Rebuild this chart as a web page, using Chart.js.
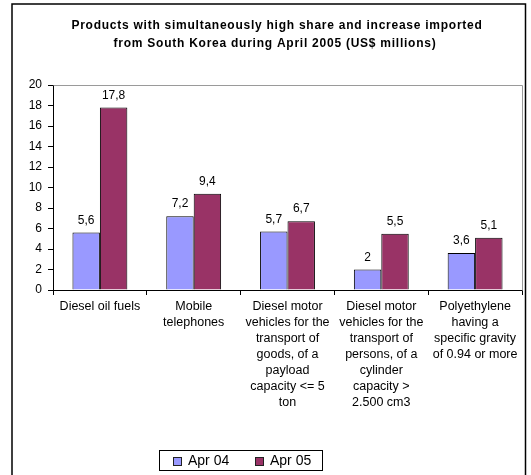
<!DOCTYPE html>
<html>
<head>
<meta charset="utf-8">
<title>Products imported from South Korea, April 2005</title>
<script src="https://cdn.jsdelivr.net/npm/chart.js@4/dist/chart.umd.min.js"></script>
<style>
  html, body { margin: 0; padding: 0; background: #fff; }
  canvas { display: block; }
</style>
</head>
<body>
<canvas id="chart" width="531" height="475"></canvas>
<script>
// Product categories (multi-line axis labels)
const categories = [
  ["Diesel oil fuels"],
  ["Mobile", "telephones"],
  ["Diesel motor", "vehicles for the", "transport of", "goods, of a", "payload", "capacity <= 5", "ton"],
  ["Diesel motor", "vehicles for the", "transport of", "persons, of a", "cylinder", "capacity >", "2.500 cm3"],
  ["Polyethylene", "having a", "specific gravity", "of 0.94 or more"]
];

// Imports in US$ millions
const apr04 = [5.6, 7.2, 5.7, 2, 3.6];
const apr05 = [17.8, 9.4, 6.7, 5.5, 5.1];

const seriesNames = ["Apr 04", "Apr 05"];

// Value axis
const yMin = 0;
const yMax = 20;
const yStep = 2;

const titleLines = [
  "Products with simultaneously high share and increase imported",
  "from South Korea during April 2005 (US$ millions)"
];

const FONT = 'Arial, "Liberation Sans", sans-serif';

// Outer frame of the chart object
const framePlugin = {
  id: 'frame',
  beforeDraw(chart) {
    const ctx = chart.ctx;
    ctx.save();
    ctx.fillStyle = '#fff';
    ctx.fillRect(0, 0, chart.width, chart.height);
    ctx.strokeStyle = '#000';
    ctx.lineWidth = 1.5;
    ctx.beginPath();
    ctx.moveTo(12, chart.height + 2);
    ctx.lineTo(12, 4);
    ctx.lineTo(525.5, 4);
    ctx.lineTo(525.5, chart.height + 2);
    ctx.stroke();
    ctx.restore();
  }
};

// Grey top/right edges of the plot area
const plotAreaPlugin = {
  id: 'plotArea',
  beforeDatasetsDraw(chart) {
    const { ctx, chartArea: a } = chart;
    ctx.save();
    ctx.strokeStyle = '#9a9a9a';
    ctx.lineWidth = 1;
    ctx.beginPath();
    ctx.moveTo(Math.round(a.left) + 0.5, Math.round(a.top) + 0.5);
    ctx.lineTo(Math.round(a.right) + 0.5, Math.round(a.top) + 0.5);
    ctx.lineTo(Math.round(a.right) + 0.5, Math.round(a.bottom) + 0.5);
    ctx.stroke();
    ctx.restore();
  }
};

// Two-line bold heading
const headingPlugin = {
  id: 'heading',
  afterDraw(chart) {
    const ctx = chart.ctx;
    ctx.save();
    ctx.fillStyle = '#000';
    ctx.font = 'bold 12px ' + FONT;
    if ('letterSpacing' in ctx) ctx.letterSpacing = '0.75px';
    ctx.textAlign = 'center';
    ctx.textBaseline = 'middle';
    ctx.fillText(titleLines[0], 277, 25.5);
    ctx.fillText(titleLines[1], 275, 44);
    ctx.restore();
  }
};

// Value labels above every bar
const valueLabelPlugin = {
  id: 'valueLabels',
  afterDatasetsDraw(chart) {
    const ctx = chart.ctx;
    ctx.save();
    ctx.fillStyle = '#000';
    ctx.font = '12px ' + FONT;
    ctx.textAlign = 'center';
    ctx.textBaseline = 'alphabetic';
    chart.data.datasets.forEach((ds, i) => {
      const meta = chart.getDatasetMeta(i);
      meta.data.forEach((bar, j) => {
        const txt = String(ds.data[j]).replace('.', ',');
        ctx.fillText(txt, bar.x, bar.y - 9);
      });
    });
    ctx.restore();
  }
};

// Boxed legend below the axis labels
const boxedLegendPlugin = {
  id: 'boxedLegend',
  afterDraw(chart) {
    const ctx = chart.ctx;
    const box = { x: 159, y: 450, w: 163, h: 20 };
    ctx.save();
    ctx.fillStyle = '#fff';
    ctx.fillRect(box.x, box.y, box.w, box.h);
    ctx.strokeStyle = '#000';
    ctx.lineWidth = 1;
    ctx.strokeRect(box.x + 0.5, box.y + 0.5, box.w, box.h);
    ctx.font = '14px ' + FONT;
    ctx.textBaseline = 'middle';
    ctx.textAlign = 'left';
    const starts = [173, 255];
    chart.data.datasets.forEach((ds, i) => {
      const sx = starts[i];
      ctx.fillStyle = ds.backgroundColor;
      ctx.fillRect(sx, 457, 8, 8);
      ctx.strokeStyle = '#222';
      ctx.strokeRect(sx + 0.5, 457.5, 8, 8);
      ctx.fillStyle = '#000';
      ctx.fillText(ds.label, sx + 15, 461.5);
    });
    ctx.restore();
  }
};

new Chart(document.getElementById('chart'), {
  type: 'bar',
  data: {
    labels: categories,
    datasets: [
      {
        label: seriesNames[0],
        data: apr04,
        backgroundColor: '#9999ff',
        borderColor: '#000',
        borderWidth: 1,
        borderSkipped: 'bottom',
        categoryPercentage: 0.585,
        barPercentage: 1
      },
      {
        label: seriesNames[1],
        data: apr05,
        backgroundColor: '#993366',
        borderColor: '#000',
        borderWidth: 1,
        borderSkipped: 'bottom',
        categoryPercentage: 0.585,
        barPercentage: 1
      }
    ]
  },
  options: {
    responsive: false,
    animation: false,
    devicePixelRatio: 1,
    layout: { padding: { top: 85, right: 9, left: 0, bottom: 0 } },
    plugins: {
      legend: { display: false },
      title: { display: false },
      tooltip: { enabled: false }
    },
    scales: {
      x: {
        grid: {
          offset: true,
          drawOnChartArea: false,
          drawTicks: true,
          tickLength: 5,
          color: '#000'
        },
        border: { color: '#000', width: 1 },
        ticks: {
          color: '#000',
          font: { family: FONT, size: 12.5, lineHeight: 16 / 12.5 },
          padding: 4,
          maxRotation: 0,
          minRotation: 0,
          autoSkip: false
        },
        afterFit(scale) { scale.height = 185; }
      },
      y: {
        min: yMin,
        max: yMax,
        grid: {
          drawOnChartArea: false,
          drawTicks: true,
          tickLength: 5,
          color: '#000'
        },
        border: { color: '#000', width: 1 },
        ticks: {
          stepSize: yStep,
          color: '#000',
          font: { family: FONT, size: 12 },
          padding: 6
        },
        afterFit(scale) { scale.width = 53; }
      }
    }
  },
  plugins: [framePlugin, plotAreaPlugin, valueLabelPlugin, headingPlugin, boxedLegendPlugin]
});
</script>
</body>
</html>
